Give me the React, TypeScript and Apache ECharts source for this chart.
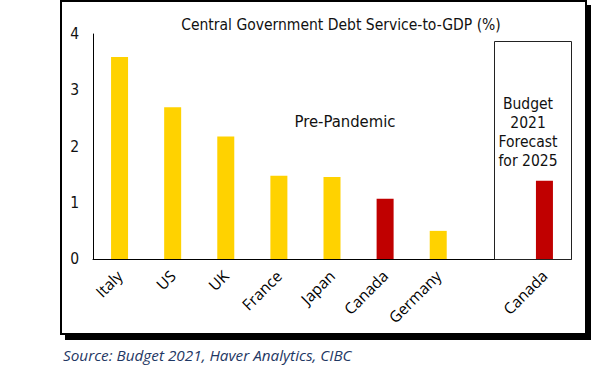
import React, { useEffect, useRef } from "react";
import * as echarts from "echarts";

const categories = ["Italy", "US", "UK", "France", "Japan", "Canada", "Germany", "", "Canada"];
const values: (number | null)[] = [3.59, 2.7, 2.18, 1.48, 1.46, 1.07, 0.5, null, 1.39];
const isCanada = [false, false, false, false, false, true, false, false, true];
const yTicks = [0, 1, 2, 3, 4];

const titleText = "Central Government Debt Service-to-GDP (%)";
const preText = "Pre-Pandemic";
const forecastText = "Budget\n2021\nForecast\nfor 2025";
const sourceText = "Source: Budget 2021, Haver Analytics, CIBC";

const YELLOW = "#FFD200";
const RED = "#C00000";

export default function App() {
  const ref = useRef<HTMLDivElement>(null);
  useEffect(() => {
    if (!ref.current) return;
    const chart = echarts.init(ref.current, null, { renderer: "svg" });
    const titleFont = "'DejaVu Sans Condensed', 'DejaVu Sans', sans-serif";
    chart.setOption({
      animation: false,
      grid: { left: 93, right: 24, top: 34, bottom: 114, containLabel: false },
      xAxis: {
        type: "category",
        data: categories,
        axisLine: { show: true, lineStyle: { color: "#000", width: 1 } },
        axisTick: { show: false },
        axisLabel: {
          rotate: 45,
          interval: 0,
          margin: 14,
          color: "#000",
          fontSize: 15.5,
          fontFamily: "'Open Sans', sans-serif",
        },
      },
      yAxis: {
        type: "value",
        min: yTicks[0],
        max: yTicks[yTicks.length - 1],
        interval: 1,
        splitLine: { show: false },
        axisTick: { show: false },
        axisLine: { show: true, lineStyle: { color: "#000", width: 1 } },
        axisLabel: {
          margin: 14,
          color: "#111",
          fontSize: 15.5,
          fontFamily: titleFont,
        },
      },
      series: [
        {
          type: "bar",
          barWidth: 17,
          data: values.map((v, i) => ({
            value: v,
            itemStyle: { color: isCanada[i] ? RED : YELLOW },
          })),
        },
      ],
      graphic: [
        {
          type: "rect",
          z: -10,
          shape: { x: 65, y: 5, width: 526, height: 335 },
          style: { fill: "#000" },
        },
        {
          type: "rect",
          z: -9,
          shape: { x: 61, y: 1, width: 525, height: 333 },
          style: { fill: "#fff", stroke: "#000", lineWidth: 2 },
        },
        {
          type: "rect",
          z: 5,
          shape: { x: 494.5, y: 41.5, width: 77, height: 218 },
          style: { fill: "none", stroke: "#222", lineWidth: 1 },
        },
        {
          type: "text",
          z: 5,
          x: 341,
          y: 25,
          style: {
            text: titleText,
            fill: "#111",
            font: `15.5px ${titleFont}`,
            textAlign: "center",
            textVerticalAlign: "middle",
          },
        },
        {
          type: "text",
          z: 5,
          x: 345,
          y: 121,
          style: {
            text: preText,
            fill: "#111",
            font: `16.5px ${titleFont}`,
            textAlign: "center",
            textVerticalAlign: "middle",
          },
        },
        {
          type: "text",
          z: 5,
          x: 528,
          y: 132,
          style: {
            text: forecastText,
            fill: "#111",
            font: `15.5px ${titleFont}`,
            lineHeight: 19,
            textAlign: "center",
            textVerticalAlign: "middle",
          },
        },
        {
          type: "text",
          z: 5,
          x: 63,
          y: 355,
          style: {
            text: sourceText,
            fill: "#1F3864",
            font: "italic 15.3px 'Open Sans', sans-serif",
            textAlign: "left",
            textVerticalAlign: "middle",
          },
        },
      ],
    });
    return () => chart.dispose();
  }, []);
  return (
    <div
      ref={ref}
      style={{ position: "absolute", left: 0, top: 0, width: 595, height: 373, background: "#fff" }}
    />
  );
}
